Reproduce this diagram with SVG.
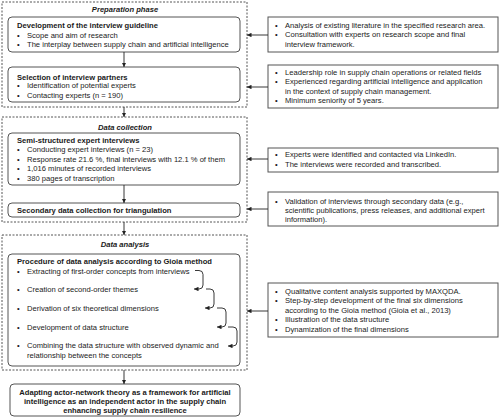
<svg xmlns="http://www.w3.org/2000/svg" width="500" height="419" viewBox="0 0 500 419">
<defs>
<style>
text{font-family:"Liberation Sans",Arial,sans-serif;font-size:7.6px;fill:#1a1a1a}
.b{font-weight:bold}
.h{font-weight:bold;font-style:italic;text-anchor:middle}
.c{text-anchor:middle;font-weight:bold}
.dash{fill:none;stroke:#555;stroke-width:1;stroke-dasharray:2 1.5}
.box{fill:#fff;stroke:#555;stroke-width:1}
.ln{fill:none;stroke:#222;stroke-width:0.9}
</style>
<marker id="ah" viewBox="0 0 6 6" refX="6" refY="3" markerWidth="4.5" markerHeight="4.5" markerUnits="userSpaceOnUse" orient="auto">
<path d="M0,0L6,3L0,6z" fill="#222"/>
</marker>
</defs>
<rect width="500" height="419" fill="#fff"/>

<g id="phase-preparation">
<rect class="dash" x="2" y="2" width="245" height="105"/>
<text class="h" x="125" y="12">Preparation phase</text>
</g>
<g id="phase-collection">
<rect class="dash" x="2" y="117" width="245" height="105"/>
<text class="h" x="125" y="129.5">Data collection</text>
</g>
<g id="phase-analysis">
<rect class="dash" x="2" y="235" width="245" height="135"/>
<text class="h" x="125" y="246.5">Data analysis</text>
</g>

<g id="n-guideline">
<rect class="box" x="8" y="17" width="232" height="35" rx="4"/>
<text class="b" x="17" y="28">Development of the interview guideline</text>
<text x="17" y="37.5">•</text><text x="27" y="37.5">Scope and aim of research</text>
<text x="17" y="47">•</text><text x="27" y="47">The interplay between supply chain and artificial intelligence</text>
</g>
<g id="n-partners">
<rect class="box" x="8" y="67" width="232" height="35" rx="4"/>
<text class="b" x="17" y="79.5">Selection of interview partners</text>
<text x="17" y="88">•</text><text x="27" y="88">Identification of potential experts</text>
<text x="17" y="97.5">•</text><text x="27" y="97.5">Contacting experts (n = 190)</text>
</g>
<g id="n-interviews">
<rect class="box" x="8" y="133" width="232" height="52" rx="4"/>
<text class="b" x="17" y="142.5">Semi-structured expert interviews</text>
<text x="17" y="152">•</text><text x="27" y="152">Conducting expert interviews (n = 23)</text>
<text x="17" y="161.5">•</text><text x="27" y="161.5">Response rate 21.6 %, final interviews with 12.1 % of them</text>
<text x="17" y="171">•</text><text x="27" y="171">1,016 minutes of recorded interviews</text>
<text x="17" y="180.5">•</text><text x="27" y="180.5">380 pages of transcription</text>
</g>
<g id="n-secondary">
<rect class="box" x="8" y="203" width="232" height="14" rx="4"/>
<text class="b" x="17" y="212.8">Secondary data collection for triangulation</text>
</g>
<g id="n-procedure">
<rect class="box" x="8" y="254" width="232" height="112" rx="4"/>
<text class="b" x="17" y="263.7">Procedure of data analysis according to Gioia method</text>
<text x="17" y="273.7">•</text><text x="27" y="273.7">Extracting of first-order concepts from interviews</text>
<text x="17" y="292.2">•</text><text x="27" y="292.2">Creation of second-order themes</text>
<text x="17" y="310.7">•</text><text x="27" y="310.7">Derivation of six theoretical dimensions</text>
<text x="17" y="329.7">•</text><text x="27" y="329.7">Development of data structure</text>
<text x="17" y="348.2">•</text><text x="27" y="348.2">Combining the data structure with observed dynamic and</text>
<text x="27" y="357.7">relationship between the concepts</text>
</g>
<g id="n-result">
<rect class="box" x="10" y="384" width="230" height="32" rx="4"/>
<text class="c" x="125" y="394.7">Adapting actor-network theory as a framework for artificial</text>
<text class="c" x="125" y="403.9">intelligence as an independent actor in the supply chain</text>
<text class="c" x="125" y="413.1">enhancing supply chain resilience</text>
</g>

<g id="r-guideline">
<rect class="box" x="268" y="17" width="230" height="35"/>
<text x="275" y="28">•</text><text x="285" y="28">Analysis of existing literature in the specified research area.</text>
<text x="275" y="37.4">•</text><text x="285" y="37.4">Consultation with experts on research scope and final</text>
<text x="285" y="47">interview framework.</text>
</g>
<g id="r-partners">
<rect class="box" x="268" y="65" width="230" height="43"/>
<text x="275" y="75">•</text><text x="285" y="75">Leadership role in supply chain operations or related fields</text>
<text x="275" y="84.4">•</text><text x="285" y="84.4">Experienced regarding artificial intelligence and application</text>
<text x="285" y="93.7">in the context of supply chain management.</text>
<text x="275" y="102.7">•</text><text x="285" y="102.7">Minimum seniority of 5 years.</text>
</g>
<g id="r-interviews">
<rect class="box" x="268" y="148" width="230" height="24"/>
<text x="275" y="157">•</text><text x="285" y="157">Experts were identified and contacted via LinkedIn.</text>
<text x="275" y="166.7">•</text><text x="285" y="166.7">The interviews were recorded and transcribed.</text>
</g>
<g id="r-secondary">
<rect class="box" x="268" y="192" width="230" height="34"/>
<text x="275" y="203.7">•</text><text x="285" y="203.7">Validation of interviews through secondary data (e.g.,</text>
<text x="285" y="212.7">scientific publications, press releases, and additional expert</text>
<text x="285" y="222">information).</text>
</g>
<g id="r-procedure">
<rect class="box" x="268" y="283" width="230" height="54"/>
<text x="275" y="293.7">•</text><text x="285" y="293.7">Qualitative content analysis supported by MAXQDA.</text>
<text x="275" y="303.4">•</text><text x="285" y="303.4">Step-by-step development of the final six dimensions</text>
<text x="285" y="312.7">according to the Gioia method (Gioia et al., 2013)</text>
<text x="275" y="322">•</text><text x="285" y="322">Illustration of the data structure</text>
<text x="275" y="331.7">•</text><text x="285" y="331.7">Dynamization of the final dimensions</text>
</g>

<g id="connectors">
<path class="ln" d="M124,52V67" marker-end="url(#ah)"/>
<path class="ln" d="M124,107V117" marker-end="url(#ah)"/>
<path class="ln" d="M124,185V203" marker-end="url(#ah)"/>
<path class="ln" d="M124,222V235" marker-end="url(#ah)"/>
<path class="ln" d="M124,370V384" marker-end="url(#ah)"/>
<path class="ln" d="M268,35H247" marker-end="url(#ah)"/>
<path class="ln" d="M268,87H247" marker-end="url(#ah)"/>
<path class="ln" d="M268,159H247" marker-end="url(#ah)"/>
<path class="ln" d="M268,209H247" marker-end="url(#ah)"/>
<path class="ln" d="M268,311H247" marker-end="url(#ah)"/>
<path class="ln" d="M195,270.5H199Q203,270.5 203,274.5V285Q203,289 199,289H194" marker-end="url(#ah)"/>
<path class="ln" d="M206,289H210Q214,289 214,293V304Q214,308 210,308H205" marker-end="url(#ah)"/>
<path class="ln" d="M217,308H222Q226,308 226,312V323Q226,327 222,327H217" marker-end="url(#ah)"/>
<path class="ln" d="M228,327H233Q237,327 237,331V342Q237,346 233,346H228" marker-end="url(#ah)"/>
</g>
</svg>
